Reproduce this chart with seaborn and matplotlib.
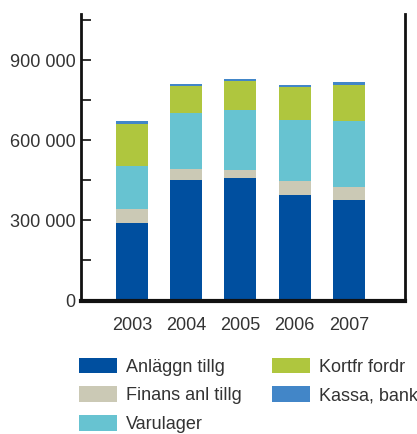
import numpy as np
import pandas as pd
import seaborn as sns
import matplotlib.pyplot as plt
from matplotlib.patches import Patch
from matplotlib.ticker import FixedLocator, FuncFormatter

# -----------------------------------------------------------------------------
# Data
years = ["2003", "2004", "2005", "2006", "2007"]
anlaggn = [290000, 451000, 459000, 395000, 376000]
finans = [52500, 41000, 30000, 52500, 49000]
varulager = [161000, 211000, 225000, 229000, 249000]
kortfr = [157500, 100000, 109000, 124000, 134000]
kassa = [11000, 7500, 7500, 7500, 11000]

series_names = ["Anläggn tillg", "Finans anl tillg", "Varulager", "Kortfr fordr", "Kassa, bank"]
series_vals = [anlaggn, finans, varulager, kortfr, kassa]
colors = ["#004f9f", "#cbc9b5", "#67c3d1", "#afc63e", "#4286c8"]

# -----------------------------------------------------------------------------
sns.set_style("white")
plt.rcParams["font.family"] = ["Liberation Sans", "DejaVu Sans"]
text_col = "#333333"

fig = plt.figure(figsize=(4.17, 4.34), dpi=100)
ax = fig.add_axes([0.194, 0.3076, 0.777, 0.66])

# stacked bars: draw cumulative totals from the top layer down
cum = np.cumsum(np.array(series_vals), axis=0)
for i in range(len(series_names) - 1, -1, -1):
    df = pd.DataFrame({"year": years, "value": cum[i]})
    sns.barplot(data=df, x="year", y="value", color=colors[i],
                width=0.59, saturation=1, linewidth=0, ax=ax, zorder=2)

ax.set_xlim(-0.94, 5.03)
ax.set_ylim(0, 1074000)
ax.set_xlabel("")
ax.set_ylabel("")

ax.yaxis.set_major_locator(FixedLocator([0, 300000, 600000, 900000]))
ax.yaxis.set_minor_locator(FixedLocator([150000, 450000, 750000, 1050000]))
ax.yaxis.set_major_formatter(FuncFormatter(lambda v, p: f"{int(v):,}".replace(",", " ")))
ax.tick_params(axis="y", which="both", direction="in", length=7, width=1.3,
               color="#222222", labelsize=13, labelcolor=text_col, pad=4, left=True)
ax.tick_params(axis="x", length=0, labelsize=13, labelcolor=text_col, pad=12)

ax.spines["top"].set_visible(False)
for side in ["left", "right"]:
    ax.spines[side].set_linewidth(2)
    ax.spines[side].set_color("#111111")
ax.spines["bottom"].set_linewidth(3)
ax.spines["bottom"].set_color("#111111")

handles = [Patch(facecolor=c, edgecolor="none") for c in colors]
fig.legend(handles, series_names, loc="upper left", bbox_to_anchor=(0.189, 0.176),
           ncol=2, frameon=False, fontsize=13, handlelength=2.1, handleheight=0.95,
           handletextpad=0.5, labelspacing=0.6, columnspacing=1.7,
           borderaxespad=0, borderpad=0, labelcolor=text_col)

fig.savefig("out.png", dpi=100)
